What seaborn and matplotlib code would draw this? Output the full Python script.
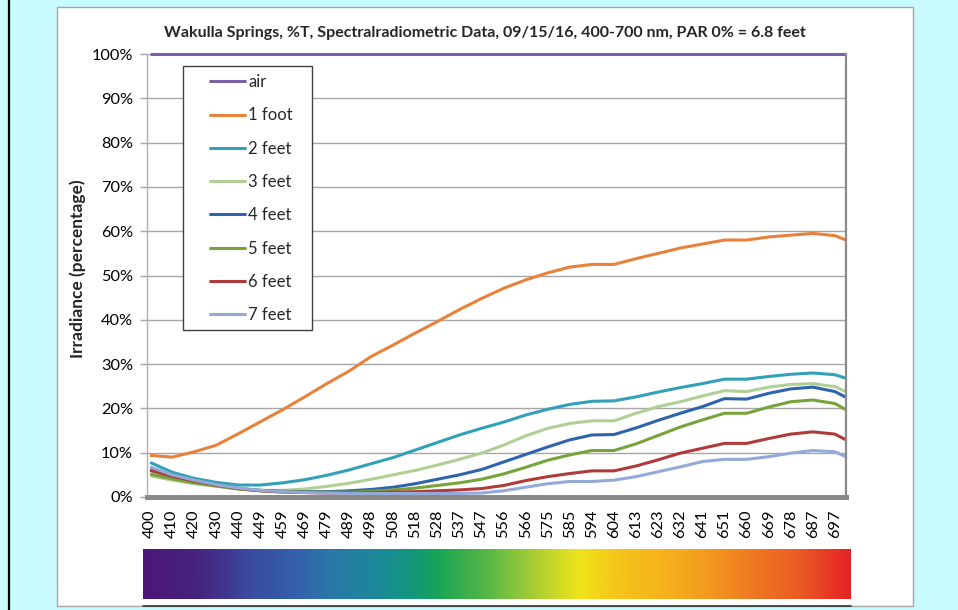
import numpy as np
import pandas as pd
import matplotlib
matplotlib.use("Agg")
import matplotlib.pyplot as plt
from matplotlib.colors import LinearSegmentedColormap
from matplotlib.patches import Rectangle
from matplotlib.lines import Line2D
import seaborn as sns

# ---------------------------------------------------------------- data
wavelength_labels = ["400", "410", "420", "430", "440", "449", "459", "469",
                     "479", "489", "498", "508", "518", "528", "537", "547",
                     "556", "566", "575", "585", "594", "604", "613", "623",
                     "632", "641", "651", "660", "669", "678", "687", "697"]

series_names = ["air", "1 foot", "2 feet", "3 feet", "4 feet",
                "5 feet", "6 feet", "7 feet"]

# percent transmission at each labelled wavelength, last value = ~701 nm
air = [100, 100, 100, 100, 100, 100, 100, 100, 100, 100, 100, 100, 100,
       100, 100, 100, 100, 100, 100, 100, 100, 100, 100, 100, 100, 100,
       100, 100, 100, 100, 100, 100, 100]
foot_1 = [9.4, 9.0, 10.2, 11.7, 14.3, 17.0, 19.7, 22.6, 25.6, 28.4, 31.7,
          34.3, 37.0, 39.6, 42.3, 44.8, 47.1, 49.0, 50.6, 51.9, 52.5, 52.5,
          53.8, 55.0, 56.2, 57.1, 58.0, 58.0, 58.7, 59.1, 59.5, 59.0, 58.0]
feet_2 = [7.8, 5.6, 4.2, 3.3, 2.7, 2.7, 3.2, 3.9, 4.9, 6.1, 7.5, 8.9, 10.6,
          12.3, 14.0, 15.5, 16.9, 18.5, 19.8, 20.9, 21.6, 21.7, 22.6, 23.7,
          24.7, 25.6, 26.6, 26.6, 27.2, 27.7, 28.0, 27.6, 26.8]
feet_3 = [4.8, 3.8, 3.0, 2.4, 1.8, 1.5, 1.5, 1.8, 2.4, 3.1, 4.0, 5.0, 6.0,
          7.2, 8.5, 9.9, 11.7, 13.8, 15.5, 16.6, 17.2, 17.2, 18.9, 20.4,
          21.5, 22.8, 24.0, 23.8, 24.8, 25.4, 25.6, 24.9, 23.8]
feet_4 = [6.2, 4.6, 3.5, 2.6, 1.9, 1.5, 1.3, 1.2, 1.2, 1.4, 1.7, 2.2, 3.0,
          4.0, 5.0, 6.2, 7.9, 9.6, 11.3, 12.9, 14.0, 14.1, 15.6, 17.3, 18.9,
          20.4, 22.2, 22.1, 23.4, 24.4, 24.8, 23.8, 22.5]
feet_5 = [5.2, 4.1, 3.2, 2.5, 1.8, 1.4, 1.2, 1.1, 1.1, 1.1, 1.3, 1.6, 2.0,
          2.6, 3.2, 4.0, 5.2, 6.7, 8.3, 9.5, 10.5, 10.5, 12.0, 13.9, 15.8,
          17.4, 18.9, 18.9, 20.3, 21.5, 21.9, 21.1, 19.7]
feet_6 = [6.0, 4.7, 3.6, 2.7, 1.9, 1.4, 1.1, 1.0, 0.9, 0.9, 1.0, 1.1, 1.2,
          1.4, 1.6, 1.9, 2.6, 3.7, 4.6, 5.3, 5.9, 5.9, 7.0, 8.4, 9.9, 11.0,
          12.1, 12.1, 13.2, 14.2, 14.7, 14.2, 12.9]
feet_7 = [6.8, 5.0, 3.8, 2.8, 2.0, 1.5, 1.2, 1.0, 0.9, 0.8, 0.8, 0.8, 0.8,
          0.8, 0.8, 0.9, 1.4, 2.2, 3.0, 3.5, 3.5, 3.8, 4.6, 5.7, 6.8, 8.0,
          8.5, 8.5, 9.1, 9.9, 10.5, 10.2, 9.1]

series_values = [air, foot_1, feet_2, feet_3, feet_4, feet_5, feet_6, feet_7]

line_colors = ["#7d5fa8", "#e8823a", "#31a0b8", "#afcf94",
               "#2f64ad", "#76a33a", "#b03a3a", "#93a9d8"]

title_text = ("Wakulla Springs, %T, Spectralradiometric Data, 09/15/16, "
              "400-700 nm, PAR 0% = 6.8 feet")

# category positions: one slot per labelled wavelength, plus the right edge
positions = list(np.arange(len(wavelength_labels), dtype=float)) + [len(wavelength_labels) - 0.5]

rows = []
for name, vals in zip(series_names, series_values):
    for p, v in zip(positions, vals):
        rows.append({"pos": p, "pct": v, "depth": name})
df = pd.DataFrame(rows)

# ---------------------------------------------------------------- style
sns.set_style("white")
plt.rcParams["font.family"] = ["Lato", "DejaVu Sans"]

W, H = 958, 610


def fx(px):
    return px / W


def fy(py):
    return 1 - py / H


fig = plt.figure(figsize=(W / 100, H / 100), dpi=100, facecolor="#c9fbfc")

# white chart panel and the dark rules at the edges
fig.patches.append(Rectangle((fx(57), fy(606)), fx(913) - fx(57), fy(7) - fy(606),
                             transform=fig.transFigure, facecolor="white",
                             edgecolor="#a6a6a6", lw=1.0, zorder=-5))
fig.add_artist(Line2D([fx(9), fx(9)], [0, 1], color="black", lw=1.6, zorder=-4))
fig.add_artist(Line2D([fx(143), fx(851)], [fy(606), fy(606)], color="#333333",
                      lw=1.2, zorder=-4))

ax = fig.add_axes([fx(147), fy(497), fx(846) - fx(147), fy(54) - fy(497)])
ax.set_facecolor("white")

sns.lineplot(data=df, x="pos", y="pct", hue="depth", hue_order=series_names,
             palette=dict(zip(series_names, line_colors)), estimator=None,
             sort=False, lw=2.2, legend=False, ax=ax)
for ln in ax.lines:
    ln.set_clip_on(False)
    ln.set_solid_capstyle("butt")

ax.set_xlim(-0.14, len(wavelength_labels) - 0.5)
ax.set_ylim(0, 100)
ax.set_yticks(np.arange(0, 101, 10))
ax.set_yticklabels([f"{t}%" for t in range(0, 101, 10)])
ax.set_xticks(np.arange(len(wavelength_labels)))
ax.set_xticklabels(wavelength_labels, rotation=90)
ax.yaxis.grid(True, color="#a6a6a6", lw=1.0)
ax.set_axisbelow(True)
ax.tick_params(axis="y", length=5, width=1, color="#a6a6a6", pad=5,
               labelsize=11.8, labelcolor="black", left=True)
ax.tick_params(axis="x", length=0, pad=9, labelsize=11.8, labelcolor="black")

ax.spines["top"].set_visible(False)
ax.spines["left"].set_color("#b0b0b0")
ax.spines["left"].set_linewidth(1.0)
ax.spines["right"].set_color("#8a8a8a")
ax.spines["right"].set_linewidth(1.6)
ax.spines["bottom"].set_color("#8a8a8a")
ax.spines["bottom"].set_linewidth(3.6)

ax.set_xlabel("")
ax.set_ylabel("Irradiance (percentage)", fontsize=12.5, fontweight="bold")
ax.yaxis.set_label_coords((86 - 147) / 699, 0.515)

fig.text(fx(485), fy(33), title_text, ha="center", va="center",
         fontsize=11.5, fontweight="bold")

# legend: entries without a frame, the box drawn separately
handles = [Line2D([], [], color=c, lw=2.2) for c in line_colors]
leg = ax.legend(handles, series_names, loc="upper left",
                bbox_to_anchor=((210 - 147) / 699, (497 - 74) / 443),
                frameon=False, fontsize=12, handlelength=2.1,
                handletextpad=0.2, labelspacing=1.04, borderpad=0,
                borderaxespad=0)
ax.add_patch(Rectangle(((183 - 147) / 699, (497 - 330) / 443),
                       (312 - 183) / 699, (330 - 66) / 443,
                       transform=ax.transAxes, facecolor="white",
                       edgecolor="#404040", lw=1.0, zorder=4))
leg.set_zorder(5)

# visible-spectrum colour strip under the axis
spectrum_stops = [(0.00, "#4b1778"), (0.08, "#45247f"), (0.147, "#3a4a9e"),
                  (0.218, "#3462ad"), (0.264, "#2a78a8"), (0.335, "#1b8a98"),
                  (0.381, "#13977a"), (0.415, "#17a455"), (0.49, "#5ab845"),
                  (0.537, "#95c83a"), (0.617, "#f0e41a"), (0.674, "#f5c41a"),
                  (0.744, "#f5b01c"), (0.797, "#f39a1f"), (0.862, "#ef7a22"),
                  (0.932, "#ea5a24"), (1.00, "#e52224")]
cmap = LinearSegmentedColormap.from_list("spectrum", spectrum_stops)
cax = fig.add_axes([fx(143), fy(599), fx(851) - fx(143), fy(549) - fy(599)])
cax.imshow(np.linspace(0, 1, 600)[None, :], aspect="auto", cmap=cmap,
           extent=[0, 1, 0, 1])
cax.axis("off")

fig.savefig("out.png", dpi=100, facecolor=fig.get_facecolor())
